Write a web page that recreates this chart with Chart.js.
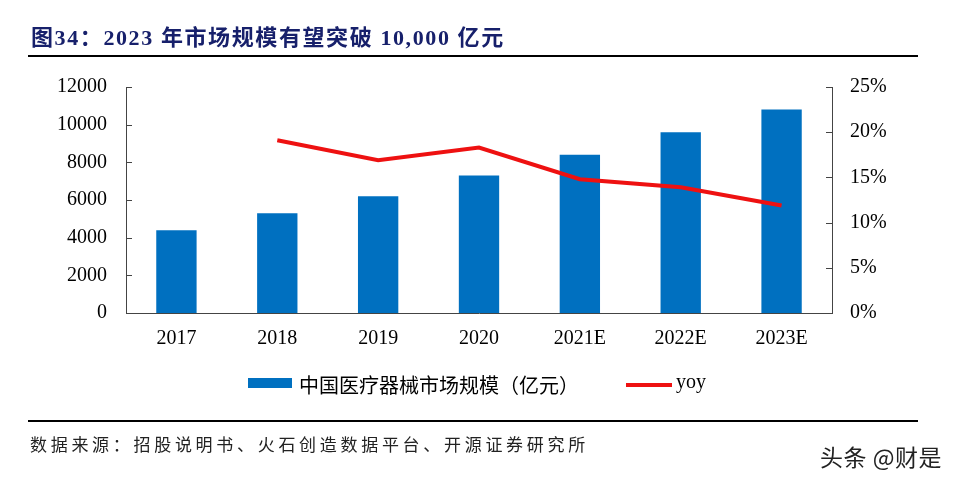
<!DOCTYPE html>
<html><head><meta charset="utf-8">
<script src="https://cdn.jsdelivr.net/npm/chart.js@4"></script>
<style>
html,body{margin:0;padding:0;background:#fff;}
#wrap{position:relative;width:960px;height:477px;overflow:hidden;}
#c{position:absolute;left:0;top:0;}
.t{position:absolute;white-space:nowrap;}
</style></head><body>
<div id="wrap">
<canvas id="c" width="960" height="477"></canvas>
<div class="t" style="left:31px;top:19px;line-height:22px;font:bold 22px 'Liberation Serif','Noto Sans CJK SC';letter-spacing:1.6px;color:#17206b;">图34：2023 年市场规模有望突破 10,000 亿元</div>
<div style="position:absolute;left:28px;top:55px;width:890px;height:2px;background:#000;"></div>
<div style="position:absolute;left:248px;top:378px;width:44px;height:10px;background:#0070c0;"></div>
<div class="t" style="left:299px;top:370px;line-height:20px;font:20px 'Noto Sans CJK SC';color:#000;">中国医疗器械市场规模（亿元）</div>
<div style="position:absolute;left:626px;top:383px;width:46px;height:4px;background:#ee1111;"></div>
<div class="t" style="left:676px;top:370px;line-height:20px;font:20px 'Liberation Serif';color:#000;">yoy</div>
<div style="position:absolute;left:28px;top:420px;width:890px;height:2px;background:#000;"></div>
<div class="t" style="left:30px;top:431px;line-height:18px;font:17px 'Noto Sans CJK SC';letter-spacing:3.7px;color:#222;">数据来源：招股说明书、火石创造数据平台、开源证券研究所</div>
<div class="t" style="left:820px;top:439px;line-height:23px;font:23px 'Noto Sans CJK SC';letter-spacing:0.5px;color:#222;">头条 @财是</div>
</div>
<script>
const categories = ['2017','2018','2019','2020','2021E','2022E','2023E'];
const marketSize = [4400, 5300, 6200, 7300, 8400, 9600, 10800];
const yoy = [null, 19.1, 16.9, 18.3, 14.8, 13.9, 11.9];
const leftTicks = [0,2000,4000,6000,8000,10000,12000];
const rightTicks = [0,5,10,15,20,25];

const tickPlugin = {
  id:'innerTicks',
  afterDraw(chart){
    const ctx = chart.ctx;
    const y = chart.scales.y, y1 = chart.scales.y1, area = chart.chartArea;
    ctx.save();
    ctx.strokeStyle = '#444'; ctx.lineWidth = 1;
    ctx.beginPath();
    leftTicks.forEach(v=>{const p=Math.round(y.getPixelForValue(v))+0.5; ctx.moveTo(area.left, p); ctx.lineTo(area.left+6, p);});
    rightTicks.forEach(v=>{const p=Math.round(y1.getPixelForValue(v))+0.5; ctx.moveTo(area.right, p); ctx.lineTo(area.right-6, p);});
    ctx.stroke();
    ctx.restore();
  }
};

const tickFont = {family:"'Liberation Serif'", size:20};
new Chart(document.getElementById('c'), {
  data:{
    labels:categories,
    datasets:[
      {type:'line', label:'yoy', data:yoy, yAxisID:'y1', borderColor:'#ee1111', borderWidth:4, pointRadius:0, fill:false, tension:0, order:0},
      {type:'bar', label:'中国医疗器械市场规模（亿元）', data:marketSize, yAxisID:'y', backgroundColor:'#0070c0', categoryPercentage:1, barPercentage:0.4, order:1}
    ]
  },
  options:{
    responsive:false, animation:false,
    layout:{padding:{top:87,left:0,right:0,bottom:0}},
    plugins:{legend:{display:false}, tooltip:{enabled:false}},
    scales:{
      x:{
        grid:{display:false, drawTicks:false},
        border:{display:true, color:'#444', width:1},
        ticks:{font:tickFont, color:'#000', padding:14, maxRotation:0},
        afterFit(s){s.height = 164;}
      },
      y:{
        position:'left', min:0, max:12000,
        grid:{display:false, drawTicks:false},
        border:{display:true, color:'#444', width:1},
        ticks:{font:tickFont, color:'#000', padding:19, callback:(v)=>String(v)},
        afterBuildTicks(s){s.ticks = leftTicks.map(v=>({value:v}));},
        afterFit(s){s.width = 126;}
      },
      y1:{
        position:'right', min:0, max:25,
        grid:{display:false, drawTicks:false},
        border:{display:true, color:'#444', width:1},
        ticks:{font:tickFont, color:'#000', padding:18, callback:(v)=>v+'%'},
        afterBuildTicks(s){s.ticks = rightTicks.map(v=>({value:v}));},
        afterFit(s){s.width = 128;}
      }
    }
  },
  plugins:[tickPlugin]
});
</script>
</body></html>
